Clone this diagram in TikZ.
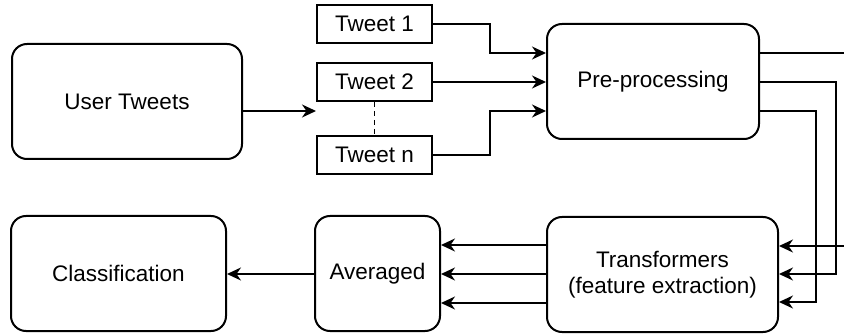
\documentclass[tikz,border=0pt]{standalone}
\usepackage{fontspec}
\setmainfont{Liberation Sans}
\usetikzlibrary{arrows.meta}
\begin{document}
\begin{tikzpicture}[x=1pt,y=-1pt,
  every node/.style={font=\fontsize{22.5}{26}\selectfont, inner sep=0pt, align=center},
  rbox/.style={draw, line width=2pt, rounded corners=15pt, minimum width=#1},
  tbox/.style={draw, line width=2pt, minimum width=115pt, minimum height=38pt},
  conn/.style={line width=1.8pt, -{Stealth[length=14pt,width=13pt,inset=4.5pt]}},
  plain/.style={line width=1.8pt}
]
\useasboundingbox (0,0) rectangle (844,334);
\clip (0,0) rectangle (844,334);
% nodes
\node[rbox=230pt, minimum height=115pt] (user) at (127,101.5) {User Tweets};
\node[tbox] (t1) at (374.5,24) {Tweet 1};
\node[tbox] (t2) at (374.5,82) {Tweet 2};
\node[tbox] (tn) at (374.5,155) {Tweet n};
\node[rbox=212pt, minimum height=115pt] (pre) at (653,81.5) {Pre-processing};
\node[rbox=231pt, minimum height=115pt] (trans) at (662.5,274.5) {Transformers\\(feature extraction)};
\node[rbox=125pt, minimum height=115pt] (avg) at (377.5,273.5) {Averaged};
\node[rbox=215pt, minimum height=115pt] (cls) at (118.5,273.5) {Classification};
\coordinate (uend) at (316,111);
% connectors
\draw[conn] (user.east |- uend) -- (uend);
\draw[plain, dash pattern=on 5pt off 4pt] (t2.south) -- (tn.north);
\draw[conn] (t1.east) -| (490,53) -- (pre.west |- 0,53);
\draw[conn] (t2.east) -- (pre.west |- t2.east);
\draw[conn] (tn.east) -| (490,111) -- (pre.west |- 0,111);
\draw[conn] (pre.east |- 0,53) -- (852,53) -- (852,246) -- (trans.east |- 0,246);
\draw[conn] (pre.east |- 0,82) -- (836,82) -- (836,274) -- (trans.east |- 0,274);
\draw[conn] (pre.east |- 0,111) -- (816,111) -- (816,302) -- (trans.east |- 0,302);
\draw[conn] (trans.west |- 0,245) -- (avg.east |- 0,245);
\draw[conn] (trans.west |- 0,274) -- (avg.east |- 0,274);
\draw[conn] (trans.west |- 0,303) -- (avg.east |- 0,303);
\draw[conn] (avg.west |- 0,274) -- (cls.east |- 0,274);
\end{tikzpicture}
\end{document}
